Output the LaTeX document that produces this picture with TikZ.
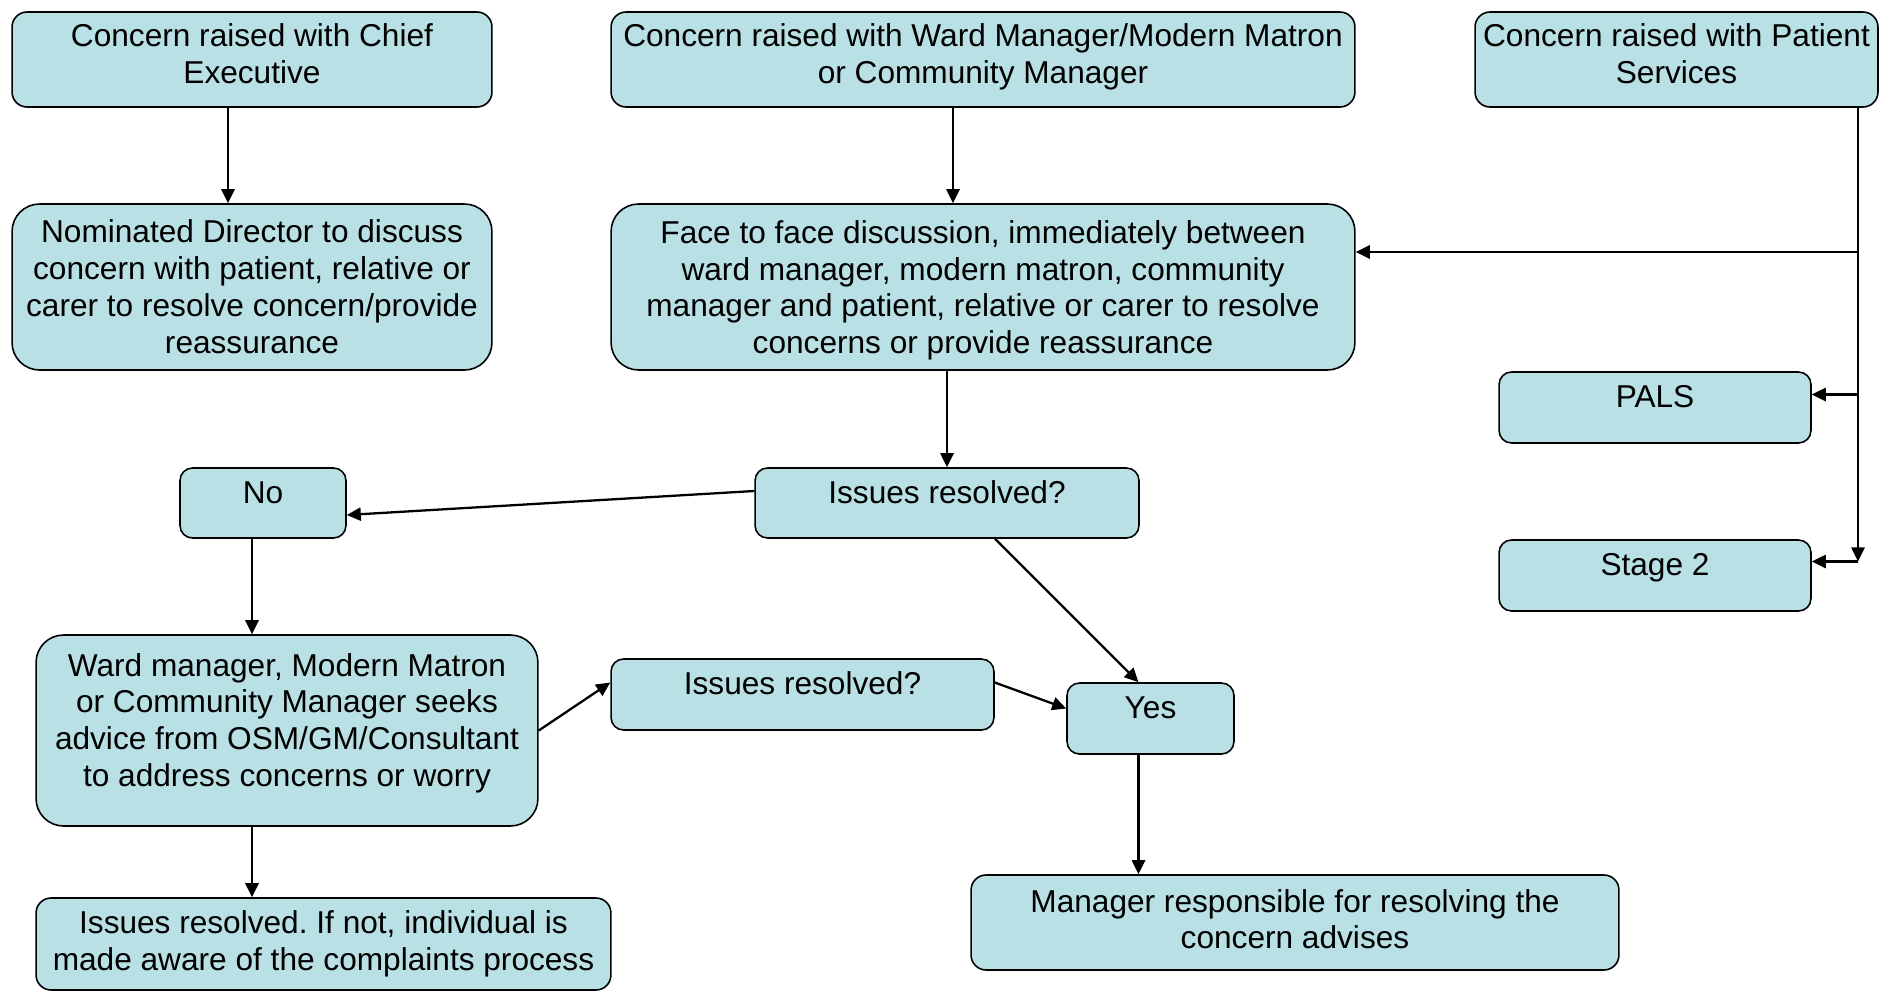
\documentclass[tikz,border=0pt]{standalone}
\usepackage{fontspec}
\setmainfont{Liberation Sans}
\frenchspacing
\usetikzlibrary{arrows.meta, calc}
\definecolor{boxfill}{RGB}{185,224,228}
\tikzstyle{box} = [rectangle, rounded corners=0.3cm, draw=black, line width=0.9pt, fill=boxfill, inner sep=2pt, align=center, font=\fontsize{18pt}{21pt}\selectfont]
\tikzstyle{topbox} = [box, minimum height=1.9cm, text depth=6.5pt]
\tikzstyle{bigbox} = [box, rounded corners=0.55cm]
\tikzstyle{shortbox} = [box, rounded corners=0.25cm, text height=13pt, text depth=13pt]
\tikzstyle{arrow} = [line width=1.3pt, -{Triangle[length=8pt,width=7.5pt]}]

\begin{document}
\begin{tikzpicture}[x=0.02cm, y=-0.02cm]
\useasboundingbox (0,0) rectangle (1880,991);

\node[topbox, minimum width=9.6cm] (CE) at (252,59.5) {Concern raised with Chief\\Executive};
\node[topbox, minimum width=14.88cm] (WM) at (983,59.5) {Concern raised with Ward Manager/Modern Matron\\or Community Manager};
\node[topbox, minimum width=8.06cm] (PS) at (1676.5,59.5) {Concern raised with Patient\\Services};
\node[bigbox, minimum width=9.6cm, minimum height=3.32cm] (ND) at (252,287) {Nominated Director to discuss\\concern with patient, relative or\\carer to resolve concern/provide\\reassurance};
\node[bigbox, minimum width=14.88cm, minimum height=3.32cm, text depth=0pt] (FF) at (983,287) {Face to face discussion, immediately between\\ward manager, modern matron, community\\manager and patient, relative or carer to resolve\\concerns or provide reassurance};
\node[shortbox, minimum width=6.24cm, minimum height=1.42cm] (PALS) at (1655,407.5) {PALS};
\node[shortbox, minimum width=6.24cm, minimum height=1.42cm] (Stage2) at (1655,575.5) {Stage 2};
\node[shortbox, minimum width=3.32cm, minimum height=1.4cm] (No) at (263,503) {No};
\node[shortbox, minimum width=7.68cm, minimum height=1.4cm] (IR1) at (947,503) {Issues resolved?};
\node[bigbox, minimum width=10.04cm, minimum height=3.82cm, text depth=12pt] (WMS) at (287,730.5) {Ward manager, Modern Matron\\or Community Manager seeks\\advice from OSM/GM/Consultant\\to address concerns or worry};
\node[shortbox, minimum width=7.66cm, minimum height=1.42cm] (IR2) at (802.5,694.5) {Issues resolved?};
\node[shortbox, minimum width=3.34cm, minimum height=1.42cm] (Yes) at (1150.5,718.5) {Yes};
\node[box, minimum width=12.96cm, minimum height=1.9cm, text depth=4pt] (MR) at (1295,922.5) {Manager responsible for resolving the\\concern advises};
\node[box, minimum width=11.5cm, minimum height=1.84cm] (IRF) at (323.5,944) {Issues resolved. If not, individual is\\made aware of the complaints process};

\coordinate (cefoot) at ($(CE.south)+(-24,0)$);
\coordinate (wmfoot) at ($(WM.south)+(-30,0)$);
\coordinate (nofoot) at ($(No.south)+(-11,0)$);
\coordinate (wmsfoot) at ($(WMS.south)+(-35,0)$);
\coordinate (yesfoot) at ($(Yes.south)+(-12,0)$);
\coordinate (pstop) at ($(PS.south)+(181.5,0)$);
\coordinate (ffin) at ($(FF.east)+(0,-35)$);
\coordinate (palsin) at ($(PALS.east)+(0,-13)$);
\coordinate (s2in) at ($(Stage2.east)+(0,-14)$);

\draw[arrow] (cefoot) -- (cefoot |- ND.north);
\draw[arrow] (wmfoot) -- (wmfoot |- FF.north);
\draw[arrow] (IR1.north |- FF.south) -- (IR1.north);
\draw[arrow] ($(IR1.west)+(0,-12)$) -- ($(No.east)+(0,12)$);
\draw[arrow] ($(IR1.south)+(48,0)$) -- ($(Yes.north)+(-12,0)$);
\draw[arrow] (nofoot) -- (nofoot |- WMS.north);
\draw[arrow] (wmsfoot) -- (wmsfoot |- IRF.north);
\draw[arrow] (WMS.east) -- ($(IR2.west)+(0,-12)$);
\draw[arrow] ($(IR2.east)+(0,-12)$) -- ($(Yes.west)+(0,-10)$);
\draw[arrow] (yesfoot) -- (yesfoot |- MR.north);

\draw[arrow] (pstop) -- (pstop |- s2in);
\draw[arrow] (pstop |- ffin) -- (ffin);
\draw[arrow] (pstop |- palsin) -- (palsin);
\draw[arrow] (pstop |- s2in) -- (s2in);
\end{tikzpicture}
\end{document}
